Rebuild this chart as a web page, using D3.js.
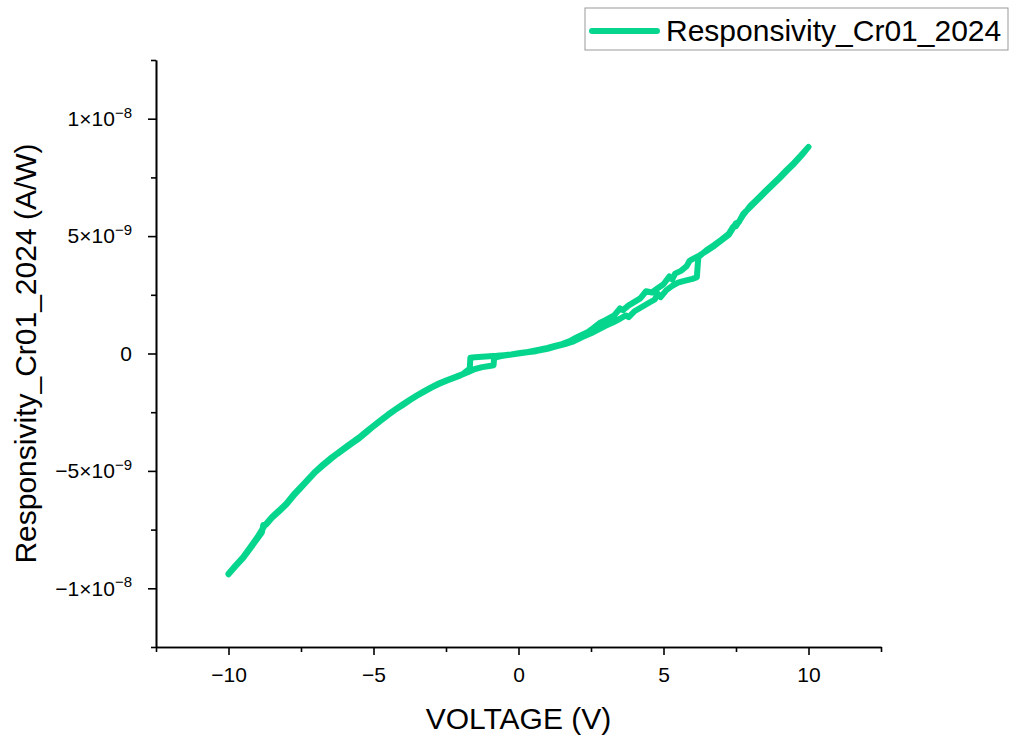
<!DOCTYPE html>
<html>
<head>
<meta charset="utf-8">
<script src="https://cdn.jsdelivr.net/npm/d3@7"></script>
<style>
  body { margin: 0; background: #fff; }
  text { font-family: "Liberation Sans", Arial, sans-serif; fill: #000; }
</style>
</head>
<body>
<div id="chart"></div>
<script>
// sweep -10 V -> +10 V (responsivity in A/W)
const sweepUpV = [-10, -9.75, -9.5, -9.25, -9, -8.85, -8.8, -8.7, -8.5, -8.25, -8, -7.75, -7.5, -7.25, -7, -6.75, -6.5, -6.25, -6, -5.75, -5.5, -5.25, -5, -4.75, -4.5, -4.25, -4, -3.75, -3.5, -3.25, -3, -2.75, -2.5, -2.25, -2, -1.75, -1.5, -1.25, -1, -0.86, -0.84, -0.6, -0.3, 0, 0.3, 0.6, 1, 1.3, 1.6, 1.9, 2.2, 2.5, 2.75, 3, 3.25, 3.5, 3.7, 3.8, 4, 4.25, 4.5, 4.7, 4.8, 4.9, 5.1, 5.3, 5.5, 5.75, 6, 6.15, 6.2, 6.5, 6.75, 7, 7.25, 7.4, 7.5, 7.75, 8, 8.25, 8.5, 8.75, 9, 9.25, 9.5, 9.75, 10];
const sweepUpR = [-9.40e-9, -9.05e-9, -8.72e-9, -8.30e-9, -7.88e-9, -7.62e-9, -7.30e-9, -7.28e-9, -7.00e-9, -6.72e-9, -6.42e-9, -6.05e-9, -5.72e-9, -5.38e-9, -5.05e-9, -4.78e-9, -4.52e-9, -4.28e-9, -4.06e-9, -3.84e-9, -3.62e-9, -3.36e-9, -3.10e-9, -2.86e-9, -2.62e-9, -2.40e-9, -2.20e-9, -1.99e-9, -1.80e-9, -1.62e-9, -1.45e-9, -1.30e-9, -1.17e-9, -1.05e-9, -0.93e-9, -0.80e-9, -0.66e-9, -0.58e-9, -0.53e-9, -0.50e-9, -0.18e-9, -0.11e-9, -0.05e-9, 0, 0.05e-9, 0.10e-9, 0.20e-9, 0.30e-9, 0.40e-9, 0.52e-9, 0.70e-9, 0.86e-9, 1.02e-9, 1.18e-9, 1.32e-9, 1.48e-9, 1.62e-9, 1.55e-9, 1.80e-9, 1.98e-9, 2.16e-9, 2.30e-9, 2.55e-9, 2.40e-9, 2.70e-9, 2.88e-9, 3.02e-9, 3.10e-9, 3.18e-9, 3.25e-9, 4.10e-9, 4.42e-9, 4.62e-9, 4.85e-9, 5.10e-9, 5.40e-9, 5.42e-9, 5.90e-9, 6.30e-9, 6.60e-9, 6.90e-9, 7.20e-9, 7.50e-9, 7.82e-9, 8.12e-9, 8.45e-9, 8.80e-9];

// sweep +10 V -> -10 V
const sweepDownV = [10, 9.75, 9.5, 9.25, 9, 8.75, 8.5, 8.25, 8, 7.75, 7.6, 7.5, 7.25, 7, 6.75, 6.5, 6.25, 6, 5.9, 5.8, 5.6, 5.4, 5.3, 5.2, 5, 4.8, 4.6, 4.4, 4.2, 4, 3.8, 3.6, 3.5, 3.3, 3, 2.8, 2.6, 2.4, 2.2, 2, 1.75, 1.5, 1.25, 1, 0.75, 0.5, 0.25, 0, -0.25, -0.5, -0.75, -1, -1.25, -1.5, -1.66, -1.68, -1.9, -2.25, -2.5, -2.75, -3, -3.25, -3.5, -3.75, -4, -4.25, -4.5, -4.75, -5, -5.25, -5.5, -5.75, -6, -6.25, -6.5, -6.75, -7, -7.25, -7.5, -7.75, -8, -8.25, -8.5, -8.75, -9, -9.25, -9.5, -9.75, -10];
const sweepDownR = [8.80e-9, 8.42e-9, 8.08e-9, 7.78e-9, 7.46e-9, 7.16e-9, 6.86e-9, 6.55e-9, 6.25e-9, 5.95e-9, 5.60e-9, 5.55e-9, 5.05e-9, 4.82e-9, 4.58e-9, 4.38e-9, 4.18e-9, 4.02e-9, 3.95e-9, 3.72e-9, 3.52e-9, 3.40e-9, 3.15e-9, 3.28e-9, 2.95e-9, 2.78e-9, 2.60e-9, 2.65e-9, 2.35e-9, 2.20e-9, 2.05e-9, 1.85e-9, 1.92e-9, 1.62e-9, 1.42e-9, 1.30e-9, 1.10e-9, 0.92e-9, 0.80e-9, 0.68e-9, 0.52e-9, 0.40e-9, 0.32e-9, 0.24e-9, 0.17e-9, 0.11e-9, 0.05e-9, 0.01e-9, -0.04e-9, -0.07e-9, -0.10e-9, -0.12e-9, -0.14e-9, -0.16e-9, -0.18e-9, -0.64e-9, -0.86e-9, -1.03e-9, -1.15e-9, -1.28e-9, -1.43e-9, -1.60e-9, -1.78e-9, -1.97e-9, -2.17e-9, -2.38e-9, -2.60e-9, -2.84e-9, -3.08e-9, -3.33e-9, -3.58e-9, -3.80e-9, -4.02e-9, -4.25e-9, -4.48e-9, -4.74e-9, -5.02e-9, -5.35e-9, -5.68e-9, -6.00e-9, -6.38e-9, -6.68e-9, -6.96e-9, -7.32e-9, -7.82e-9, -8.25e-9, -8.68e-9, -9.02e-9, -9.38e-9];

const xMajorTicks = [-10, -5, 0, 5, 10];
const xMinorTicks = [-12.5, -7.5, -2.5, 2.5, 7.5, 12.5];
const yMajorTicks = [-1e-8, -5e-9, 0, 5e-9, 1e-8];
const yMinorTicks = [-1.25e-8, -7.5e-9, -2.5e-9, 2.5e-9, 7.5e-9, 1.25e-8];
const yTickLabels = [["\u22121", "\u22128"], ["\u22125", "\u22129"], ["0", null], ["5", "\u22129"], ["1", "\u22128"]];

const seriesName = "Responsivity_Cr01_2024";
const lineColor = "#06d68d";

const W = 1011, H = 738;
const svg = d3.select("#chart").append("svg")
    .attr("width", W)
    .attr("height", H);

const x = d3.scaleLinear().domain([-12.5, 12.5]).range([156, 881]);
const y = d3.scaleLinear().domain([-1.25e-8, 1.25e-8]).range([647, 60]);

// axes
const xAxis = svg.append("g")
    .attr("transform", `translate(0, ${y.range()[0]})`)
    .call(d3.axisBottom(x).tickValues(xMajorTicks).tickSize(8).tickSizeOuter(0).tickPadding(12)
        .tickFormat(d => d < 0 ? "\u2212" + Math.abs(d) : d));
svg.append("g")
    .attr("transform", `translate(0, ${y.range()[0]})`)
    .call(d3.axisBottom(x).tickValues(xMinorTicks).tickSize(5).tickSizeOuter(0).tickFormat(""));

const yAxis = svg.append("g")
    .attr("transform", `translate(${x.range()[0]}, 0)`)
    .call(d3.axisLeft(y).tickValues(yMajorTicks).tickSize(8).tickSizeOuter(0).tickPadding(16).tickFormat(""));
svg.append("g")
    .attr("transform", `translate(${x.range()[0]}, 0)`)
    .call(d3.axisLeft(y).tickValues(yMinorTicks).tickSize(5).tickSizeOuter(0).tickFormat(""));

svg.selectAll(".domain, .tick line")
    .attr("stroke", "#000")
    .attr("stroke-width", 1.6);

xAxis.selectAll("text")
    .style("font-size", "21px")
    .style("font-family", "'Liberation Sans', Arial, sans-serif");

yAxis.selectAll(".tick text").each(function(d, i) {
    const t = d3.select(this)
        .style("font-size", "21px")
        .style("font-family", "'Liberation Sans', Arial, sans-serif");
    const lab = yTickLabels[i];
    if (lab[1] === null) {
        t.text(lab[0]);
    } else {
        t.text(lab[0] + "\u00d710");
        t.append("tspan")
            .attr("dy", "-0.55em")
            .style("font-size", "15px")
            .text(lab[1]);
    }
});

// axis titles
svg.append("text")
    .attr("x", (x.range()[0] + x.range()[1]) / 2)
    .attr("y", 729)
    .attr("text-anchor", "middle")
    .style("font-size", "30px")
    .text("VOLTAGE (V)");

svg.append("text")
    .attr("transform", `translate(36, ${y(0)}) rotate(-90)`)
    .attr("text-anchor", "middle")
    .style("font-size", "30px")
    .text(seriesName + " (A/W)");

// data line (up sweep then down sweep)
const points = sweepUpV.map((v, i) => [v, sweepUpR[i]])
    .concat(sweepDownV.map((v, i) => [v, sweepDownR[i]]));

const line = d3.line()
    .x(d => x(d[0]))
    .y(d => y(d[1]));

svg.append("path")
    .datum(points)
    .attr("d", line)
    .attr("fill", "none")
    .attr("stroke", lineColor)
    .attr("stroke-width", 6)
    .attr("stroke-linejoin", "round")
    .attr("stroke-linecap", "round");

// legend
const legend = svg.append("g").attr("transform", "translate(585, 8)");
legend.append("rect")
    .attr("width", 423)
    .attr("height", 42)
    .attr("fill", "#fff")
    .attr("stroke", "#999")
    .attr("stroke-width", 1);
legend.append("line")
    .attr("x1", 7).attr("x2", 72)
    .attr("y1", 23).attr("y2", 23)
    .attr("stroke", lineColor)
    .attr("stroke-width", 6)
    .attr("stroke-linecap", "round");
legend.append("text")
    .attr("x", 81)
    .attr("y", 33)
    .style("font-size", "30px")
    .text(seriesName);
</script>
</body>
</html>
